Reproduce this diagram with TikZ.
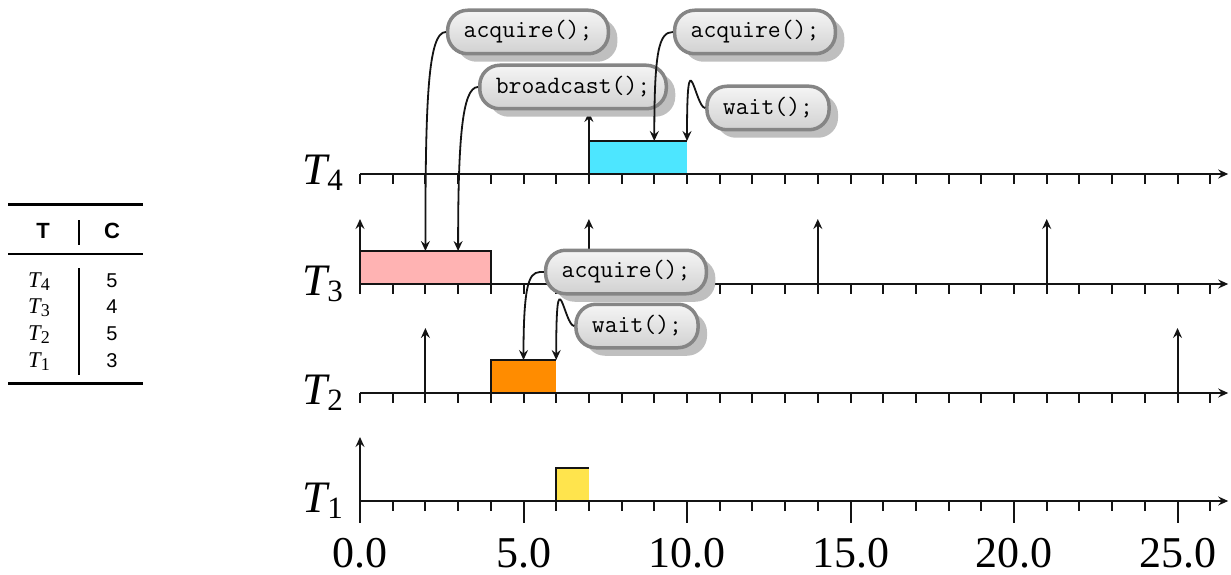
\documentclass[tikz,border=0pt]{standalone}
\usepackage{fontspec}
\setmainfont{Liberation Serif}
\setsansfont{Liberation Sans}
\usetikzlibrary{arrows.meta,shadows,calc}
\definecolor{barpink}{HTML}{FFB3B3}
\definecolor{barorange}{HTML}{FF8C00}
\definecolor{baryellow}{HTML}{FFE44D}
\definecolor{barcyan}{HTML}{4DE6FF}
\definecolor{ink}{HTML}{141414}
\newcommand{\Tlab}[1]{{\fontsize{45}{45}\selectfont\itshape T}\raisebox{-6pt}{\fontsize{31}{31}\selectfont #1}}
\newcommand{\Trow}[1]{{\fontsize{22.5}{22.5}\selectfont\itshape T}\raisebox{-3pt}{\fontsize{18}{18}\selectfont #1}}
\newcommand{\SansNum}[1]{{\fontsize{20}{20}\selectfont\sffamily #1}}
\newcommand{\SansHdr}[1]{{\fontsize{22}{22}\selectfont\sffamily\bfseries #1}}
\tikzset{
  tip/.tip={Stealth[length=10pt,width=9pt,inset=3.5pt]},
  axisline/.style={line width=2pt, draw=ink, -tip},
  tickline/.style={line width=2pt, draw=ink},
  release/.style={line width=2pt, draw=ink, -tip},
  conn/.style={line width=1.8pt, draw=ink, -tip},
  barline/.style={line width=2pt, draw=ink},
  callout/.style={rectangle, rounded corners=20pt, draw=black!48, line width=3.5pt,
    top color=white!96!black, bottom color=black!18, minimum height=43.5pt,
    inner xsep=16pt, inner ysep=0pt, font=\fontsize{25}{27}\selectfont\ttfamily,
    drop shadow={shadow xshift=9pt, shadow yshift=-8pt, fill=black!25, opacity=1}},
  numlab/.style={anchor=base, inner sep=0pt, text depth=0pt, font=\fontsize{44}{44}\selectfont},
  tlab/.style={anchor=base east, inner sep=0pt},
  cell/.style={anchor=base, inner sep=0pt},
}
\begin{document}
\begin{tikzpicture}[x=1pt,y=1pt]
\useasboundingbox (0,0) rectangle (1231,574);
% ---------- table ----------
\draw[line width=3pt] (8,369) -- (143,369);
\draw[line width=1.8pt] (8,320) -- (143,320);
\draw[line width=3pt] (8,191) -- (143,191);
\draw[line width=1.3pt] (79,354) -- (79,329);
\draw[line width=1.3pt] (79,306) -- (79,199);
\node[cell] (hT) at (43,336) {\SansHdr{T}};
\node[cell] (hC) at (112,336) {\SansHdr{C}};
\node[cell] (r4) at (39,287) {\Trow{4}};
\node[cell] (r3) at (39,261) {\Trow{3}};
\node[cell] (r2) at (39,234) {\Trow{2}};
\node[cell] (r1) at (39,207) {\Trow{1}};
\node[cell] (c4) at (112,287) {\SansNum{5}};
\node[cell] (c3) at (112,261) {\SansNum{4}};
\node[cell] (c2) at (112,234) {\SansNum{5}};
\node[cell] (c1) at (112,207) {\SansNum{3}};
% ---------- time lines ----------
\begin{scope}[shift={(360,0)}, x=32.7pt, y=1pt]
  % bars
  \fill[barpink] (0,290) rectangle (4,323);
  \draw[barline] (0,290) -- (0,323) -- (4,323) -- (4,290);
  \fill[barorange] (4,181) rectangle (6,214);
  \draw[barline] (4,181) -- (4,214) -- (6,214);
  \fill[baryellow] (6,73) rectangle (7,106);
  \draw[barline] (6,73) -- (6,106) -- (7,106);
  \fill[barcyan] (7,400) rectangle (10,433);
  \draw[barline] (7,400) -- (7,433) -- (10,433);
  % axes and ticks
  \foreach \yy in {73,181,290,400} {
    \draw[axisline] (0,\yy) -- (26.55,\yy);
    \foreach \i in {0,...,26} \draw[tickline] (\i,\yy) -- ++(0,-10);
  }
  \foreach \i in {0,5,...,25} \draw[tickline] (\i,73) -- ++(0,-22);
  % releases
  \draw[release] (7,400) -- ++(0,62);
  \foreach \t in {0,7,14,21} \draw[release] (\t,290) -- ++(0,65);
  \foreach \t in {2,25} \draw[release] (\t,181) -- ++(0,65);
  \draw[release] (0,73) -- ++(0,64);
  % numbers
  \node[numlab] (n0) at (0,7) {0.0};
  \node[numlab] (n5) at (5,7) {5.0};
  \node[numlab] (n10) at (10,7) {10.0};
  \node[numlab] (n15) at (15,7) {15.0};
  \node[numlab] (n20) at (20,7) {20.0};
  \node[numlab] (n25) at (25,7) {25.0};
  % targets
  \coordinate (t1) at (2,323);
  \coordinate (t2) at (3,323);
  \coordinate (t3) at (9,433);
  \coordinate (t4) at (10,433);
  \coordinate (t5) at (5,214);
  \coordinate (t6) at (6,214);
\end{scope}
% labels
\node[tlab] (L4) at (343,389) {\Tlab{4}};
\node[tlab] (L3) at (343,279) {\Tlab{3}};
\node[tlab] (L2) at (343,170) {\Tlab{2}};
\node[tlab] (L1) at (343,62) {\Tlab{1}};
% ---------- callouts ----------
\node[callout] (a1) at (528,542) {acquire();};
\node[callout] (bc) at (573,487) {broadcast();};
\node[callout] (a2) at (755,542) {acquire();};
\node[callout] (w1) at (768,466) {wait();};
\node[callout] (a3) at (626,302) {acquire();};
\node[callout] (w2) at (637,248) {wait();};
% connectors
\draw[conn] (a1.west) .. controls +(-18,0) and +(0,150) .. (t1);
\draw[conn] (bc.west) .. controls +(-16,0) and +(0,110) .. (t2);
\draw[conn] (a2.west) .. controls +(-14,0) and +(0,90) .. (t3);
\draw[conn] (w1.west) .. controls +(-10,0) and +(0,110) .. (t4);
\draw[conn] (a3.west) .. controls +(-12,0) and +(0,90) .. (t5);
\draw[conn] (w2.west) .. controls +(-10,0) and +(0,110) .. (t6);
\end{tikzpicture}
\end{document}
